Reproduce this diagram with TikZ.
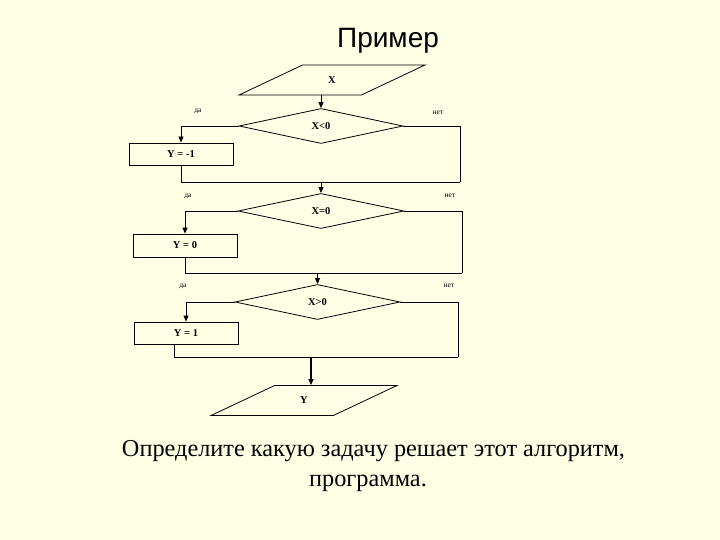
\documentclass[tikz,border=0pt]{standalone}
\usepackage{fontspec}
\setmainfont{Liberation Serif}
\newfontfamily\titlefont{Liberation Sans}
\usetikzlibrary{shapes.geometric,arrows.meta}
\definecolor{bgc}{RGB}{255,255,229}
\begin{document}
\begin{tikzpicture}[x=1pt,y=-1pt,
  line width=0.8pt,
  lbl/.style={font=\fontsize{10.5}{12}\selectfont\bfseries},
  tiny/.style={font=\fontsize{7.5}{8}\selectfont},
  dec/.style={draw,diamond,inner sep=0pt,minimum width=#1,minimum height=35pt,lbl},
  dec/.default=165pt,
  proc/.style={draw,rectangle,inner sep=0pt,minimum width=104pt,minimum height=22pt,lbl},
  io/.style={draw,trapezium,trapezium left angle=40,trapezium right angle=140,
     trapezium stretches=true,minimum width=186pt,minimum height=30pt,inner sep=0pt,lbl},
  arr/.style={-{Triangle[length=6pt,width=5pt]}},
  big/.style={font=\fontsize{24.3}{30}\selectfont,anchor=base}]
\fill[bgc] (0,0) rectangle (720,540);
\useasboundingbox (0,0) rectangle (720,540);
\node[font=\titlefont\fontsize{28}{30}\selectfont,anchor=base] (title) at (388,48) {Пример};
% nodes
\node[io] (X) at (332,80) {X};
\node[dec=164pt] (d1) at (321,126) {X<0};
\node[proc] (b1) at (181,154) {Y = -1};
\node[dec=166pt] (d2) at (321,211) {X=0};
\node[proc,minimum height=23pt] (b2) at (185,245.5) {Y = 0};
\node[dec=165pt] (d3) at (317.5,302) {X>0};
\node[proc] (b3) at (186,333) {Y = 1};
\node[io] (Y) at (304,400.5) {Y};
% labels
\node[tiny] (da1) at (198,111) {да};
\node[tiny] (net1) at (438,113) {нет};
\node[tiny] (da2) at (188,196) {да};
\node[tiny] (net2) at (450,196) {нет};
\node[tiny] (da3) at (183,286) {да};
\node[tiny] (net3) at (449,286) {нет};
% junction coordinates
\coordinate (r1) at (460,126);
\coordinate (j1) at (460,182);
\coordinate (r2) at (462,211);
\coordinate (j2) at (462,273);
\coordinate (r3) at (458,302);
\coordinate (j3) at (458,357);
\coordinate (m3) at (311,357);
% connectors
\draw[arr] (d1.north |- X.south) -- (d1.north);
\draw[arr] (d1.west) -| (b1.north);
\draw (d1.east) -- (r1) -- (j1);
\draw (b1.south) |- (j1);
\draw[arr] (d2.north |- j1) -- (d2.north);
\draw[arr] (d2.west) -| (b2.north);
\draw (d2.east) -- (r2) -- (j2);
\draw (b2.south) |- (j2);
\draw[arr] (d3.north |- j2) -- (d3.north);
\draw[arr] (d3.west) -| (b3.north);
\draw (d3.east) -- (r3) -- (j3);
\draw ([xshift=-12pt]b3.south) |- (j3);
\draw[arr,line width=2pt] (m3) -- (m3 |- Y.north);
% bottom text
\node[big] (q1) at (373.5,456) {Определите какую задачу решает этот алгоритм,};
\node[big] (q2) at (368,486) {программа.};
\end{tikzpicture}
\end{document}
